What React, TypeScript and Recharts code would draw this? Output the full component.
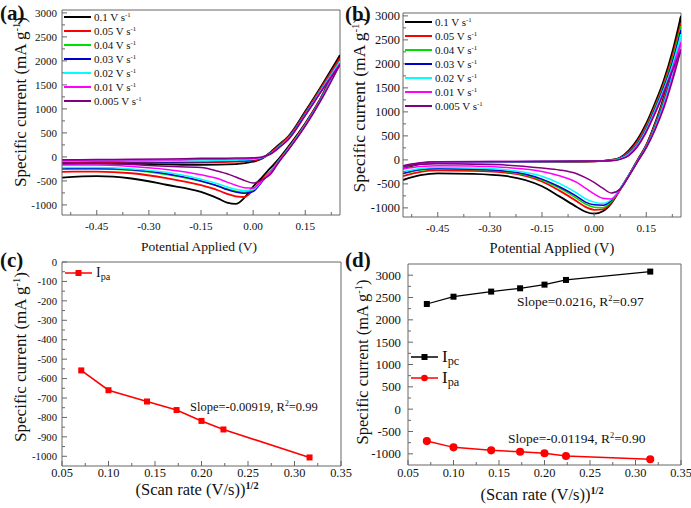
import React from 'react';
import { Legend, Line, LineChart, ReferenceLine, XAxis, YAxis } from 'recharts';

const SERIF = '"Liberation Serif", "Times New Roman", Times, serif';
const AXIS = '#666666';
const INK = '#111111';

// scan rates of the CV curves (V s^-1) and their colours
const scanRates = ['0.1', '0.05', '0.04', '0.03', '0.02', '0.01', '0.005'];
const cvColors = ['#000000', '#ff0000', '#00dd00', '#0000cc', '#00ffff', '#ff00ff', '#800080'];

// (a) potentials of the anodic (upper) and cathodic (lower) branches
const aUpperX = [-0.55, -0.45, -0.35, -0.25, -0.15, -0.05, 0, 0.025, 0.05, 0.075, 0.1, 0.15, 0.2, 0.25];
const aLowerX = [-0.55, -0.45, -0.35, -0.25, -0.15, -0.1, -0.075, -0.05, -0.025, 0, 0.025, 0.05, 0.075, 0.1, 0.15, 0.2, 0.25];

// (a) specific current, one row per scan rate
const aUpper = [
    [-150, -135, -140, -155, -165, -150, -100, -40, 100, 260, 420, 950, 1520, 2120],
    [-115, -110, -115, -125, -120, -100, -70, -30, 85, 240, 400, 920, 1490, 2060],
    [-95, -90, -95, -100, -95, -80, -55, -20, 75, 220, 380, 900, 1460, 2010],
    [-100, -95, -100, -105, -100, -85, -60, -25, 72, 215, 375, 895, 1450, 2000],
    [-85, -80, -85, -90, -85, -70, -50, -15, 68, 210, 365, 880, 1440, 1990],
    [-70, -65, -65, -65, -50, -45, -35, -10, 60, 200, 355, 870, 1420, 1950],
    [-60, -55, -50, -45, -30, -25, -20, 0, 60, 195, 350, 860, 1400, 1920],
];
const aLower = [
    [-430, -400, -450, -580, -730, -870, -950, -980, -850, -620, -430, -230, -30, 200, 700, 1300, 2120],
    [-310, -305, -340, -440, -590, -700, -770, -820, -835, -690, -480, -300, -60, 170, 680, 1290, 2060],
    [-255, -250, -280, -365, -510, -610, -670, -715, -735, -700, -500, -315, -70, 160, 670, 1280, 2010],
    [-240, -240, -270, -350, -500, -610, -680, -730, -755, -720, -520, -320, -80, 150, 660, 1270, 2000],
    [-220, -220, -250, -320, -465, -565, -625, -675, -700, -680, -500, -310, -80, 150, 660, 1260, 1990],
    [-170, -170, -200, -260, -370, -455, -525, -590, -640, -650, -500, -320, -90, 140, 650, 1250, 1950],
    [-130, -135, -160, -195, -220, -300, -350, -420, -490, -545, -480, -360, -100, 130, 640, 1240, 1920],
];

// (b) potentials of both branches
const bUpperX = [-0.55, -0.5, -0.45, -0.3, -0.15, 0, 0.05, 0.075, 0.1, 0.125, 0.15, 0.175, 0.2, 0.225, 0.25];
const bLowerX = [-0.55, -0.5, -0.45, -0.35, -0.25, -0.15, -0.1, -0.05, -0.025, 0, 0.025, 0.05, 0.075, 0.1, 0.125, 0.15, 0.175, 0.2, 0.225, 0.25];

// (b) specific current, one row per scan rate
const bUpper = [
    [-180, -90, -60, -50, -45, -30, 0, 50, 200, 430, 760, 1180, 1650, 2250, 3000],
    [-160, -80, -55, -45, -40, -30, -5, 40, 170, 390, 710, 1120, 1580, 2150, 2850],
    [-150, -75, -50, -42, -38, -28, -8, 35, 150, 360, 680, 1090, 1540, 2080, 2780],
    [-145, -72, -48, -40, -36, -28, -10, 30, 140, 340, 650, 1060, 1500, 2020, 2700],
    [-140, -70, -45, -38, -35, -27, -12, 25, 125, 320, 630, 1030, 1460, 1960, 2620],
    [-130, -65, -42, -36, -33, -26, -15, 15, 105, 300, 600, 990, 1420, 1900, 2450],
    [-120, -60, -40, -34, -31, -25, -18, 10, 90, 280, 580, 960, 1390, 1850, 2300],
];
const bLower = [
    [-420, -320, -280, -290, -340, -550, -760, -980, -1080, -1120, -1070, -900, -620, -320, 0, 310, 760, 1300, 2000, 3000],
    [-340, -250, -220, -230, -270, -450, -640, -860, -980, -1040, -1030, -880, -610, -320, -10, 300, 730, 1250, 1920, 2850],
    [-290, -210, -190, -200, -245, -420, -590, -800, -920, -985, -995, -860, -605, -320, -15, 290, 710, 1220, 1870, 2780],
    [-280, -200, -180, -195, -235, -400, -560, -760, -880, -935, -945, -840, -600, -320, -20, 280, 690, 1190, 1820, 2700],
    [-250, -180, -160, -170, -210, -340, -490, -690, -810, -880, -905, -820, -600, -320, -25, 270, 670, 1160, 1770, 2620],
    [-190, -140, -120, -130, -160, -240, -330, -470, -590, -710, -800, -815, -620, -330, -30, 260, 640, 1110, 1700, 2450],
    [-140, -90, -80, -90, -110, -170, -210, -290, -370, -470, -590, -690, -610, -340, -40, 250, 620, 1070, 1640, 2300],
];

// (c) and (d): square root of the scan rate and peak currents
const rootScanRate = [0.0707, 0.1, 0.1414, 0.1732, 0.2, 0.2236, 0.3162];
const cIpa = [-558, -660, -718, -762, -818, -862, -1006];
const dIpc = [2355, 2518, 2632, 2706, 2788, 2893, 3080];
const dIpa = [-715, -855, -922, -953, -988, -1050, -1122];

// ticks
const cvXMajor = [-0.45, -0.3, -0.15, 0, 0.15];
const cvXMinor = [-0.525, -0.375, -0.225, -0.075, 0.075, 0.225];
const cvYMajor = [-1000, -500, 0, 500, 1000, 1500, 2000, 2500, 3000];
const cvYMinor = [-750, -250, 250, 750, 1250, 1750, 2250, 2750];
const rateXMajor = [0.05, 0.1, 0.15, 0.2, 0.25, 0.3, 0.35];
const rateXMinor = [0.075, 0.125, 0.175, 0.225, 0.275, 0.325];
const cYMajor = [-1000, -900, -800, -700, -600, -500, -400, -300, -200, -100, 0];
const cYMinor = [-950, -850, -750, -650, -550, -450, -350, -250, -150, -50];

const merge = (a: number[], b: number[]) => [...a, ...b].sort((p, q) => p - q);
const toPoints = (xs: number[], ys: number[]) => xs.map((x, i) => ({ x, y: ys[i] }));
const isMajor = (v: number, majors: number[]) => majors.some((m) => Math.abs(m - v) < 1e-9);

interface TickProps {
    x?: number;
    y?: number;
    payload?: { value: number };
    majors: number[];
    fmt: (v: number) => string;
    size: number;
    gap: number;
}

function BottomTick({ x = 0, y = 0, payload, majors, fmt, size, gap }: TickProps) {
    const v = payload ? payload.value : 0;
    const major = isMajor(v, majors);
    return (
        <g>
            <line x1={x} x2={x} y1={y} y2={y - (major ? 5 : 3)} stroke={AXIS}/>
            {major && (
                <text x={x} y={y + gap} dy="0.71em" textAnchor="middle" fontFamily={SERIF} fontSize={size} fill={INK}>
                    {fmt(v)}
                </text>
            )}
        </g>
    );
}

function LeftTick({ x = 0, y = 0, payload, majors, fmt, size, gap }: TickProps) {
    const v = payload ? payload.value : 0;
    const major = isMajor(v, majors);
    return (
        <g>
            <line x1={x} x2={x + (major ? 5 : 3)} y1={y} y2={y} stroke={AXIS}/>
            {major && (
                <text x={x - gap} y={y} dy="0.35em" textAnchor="end" fontFamily={SERIF} fontSize={size} fill={INK}>
                    {fmt(v)}
                </text>
            )}
        </g>
    );
}

function SquareDot({ cx, cy, size, fill }: { cx?: number; cy?: number; size: number; fill: string }) {
    if (cx == null || cy == null) return null;
    return <rect x={cx - size / 2} y={cy - size / 2} width={size} height={size} fill={fill}/>;
}

const Sup = ({ children, bold }: { children: React.ReactNode; bold?: boolean }) => (
    <span style={{ fontSize: '0.62em', position: 'relative', top: '-0.6em', fontWeight: bold ? 'bold' : 'normal' }}>{children}</span>
);
const Sub = ({ children }: { children: React.ReactNode }) => (
    <span style={{ fontSize: '0.72em', position: 'relative', top: '0.3em' }}>{children}</span>
);

function Title({ x, y, size, rotate, children }: { x: number; y: number; size: number; rotate?: boolean; children: React.ReactNode }) {
    return (
        <div
            style={{
                position: 'absolute',
                left: x,
                top: y,
                transform: `translate(-50%, -50%)${rotate ? ' rotate(-90deg)' : ''}`,
                whiteSpace: 'nowrap',
                fontFamily: SERIF,
                fontSize: size,
                color: INK,
                lineHeight: 1,
            }}
        >
            {children}
        </div>
    );
}

function Note({ x, y, size, children }: { x: number; y: number; size: number; children: React.ReactNode }) {
    return (
        <div style={{ position: 'absolute', left: x, top: y, transform: 'translateY(-50%)', whiteSpace: 'nowrap', fontFamily: SERIF, fontSize: size, color: INK, lineHeight: 1 }}>
            {children}
        </div>
    );
}

function PanelTag({ x, y, tag }: { x: number; y: number; tag: string }) {
    return (
        <div style={{ position: 'absolute', left: x, top: y, fontFamily: SERIF, fontWeight: 'bold', fontSize: 21, lineHeight: 1.15, color: INK }}>
            ({tag})
        </div>
    );
}

function CvLegend() {
    return (
        <div style={{ fontFamily: SERIF, fontSize: 11, color: INK }}>
            {scanRates.map((r, i) => (
                <div key={r} style={{ display: 'flex', alignItems: 'center', height: 14 }}>
                    <svg width={27} height={4}>
                        <line x1={0} x2={27} y1={2} y2={2} stroke={cvColors[i]} strokeWidth={2}/>
                    </svg>
                    <span style={{ marginLeft: 3, whiteSpace: 'nowrap' }}>
                        {r} V s<Sup>-1</Sup>
                    </span>
                </div>
            ))}
        </div>
    );
}

interface RateItem {
    sub: string;
    color: string;
    shape: 'square' | 'circle';
}

function RateLegend({ items, size, row }: { items: RateItem[]; size: number; row: number }) {
    return (
        <div style={{ fontFamily: SERIF, fontSize: size, color: INK }}>
            {items.map((it) => (
                <div key={it.sub} style={{ display: 'flex', alignItems: 'center', height: row }}>
                    <svg width={27} height={8}>
                        <line x1={0} x2={27} y1={4} y2={4} stroke={it.color} strokeWidth={1.5}/>
                        {it.shape === 'square'
                            ? <rect x={10.5} y={1} width={6} height={6} fill={it.color}/>
                            : <circle cx={13.5} cy={4} r={3.3} fill={it.color}/>}
                    </svg>
                    <span style={{ marginLeft: 4, whiteSpace: 'nowrap' }}>
                        I<Sub>{it.sub}</Sub>
                    </span>
                </div>
            ))}
        </div>
    );
}

interface CvChartProps {
    upperX: number[];
    lowerX: number[];
    upper: number[][];
    lower: number[][];
    width: number;
    height: number;
    margin: { top: number; right: number; bottom: number; left: number };
    yWidth: number;
    yDomain: [number, number];
    yFont: number;
    yGap: number;
    legendTop: number;
    legendLeft: number;
}

function CvChart({ upperX, lowerX, upper, lower, width, height, margin, yWidth, yDomain, yFont, yGap, legendTop, legendLeft }: CvChartProps) {
    return (
        <LineChart width={width} height={height} margin={margin}>
            <XAxis
                type="number"
                dataKey="x"
                domain={[-0.55, 0.25]}
                allowDataOverflow
                ticks={merge(cvXMajor, cvXMinor)}
                interval={0}
                height={20}
                stroke={AXIS}
                tickLine={false}
                tickSize={0}
                tickMargin={0}
                tick={<BottomTick majors={cvXMajor} fmt={(v) => v.toFixed(2)} size={11.2} gap={7}/>}
            />
            <YAxis
                type="number"
                domain={yDomain}
                allowDataOverflow
                ticks={merge(cvYMajor, cvYMinor)}
                interval={0}
                width={yWidth}
                stroke={AXIS}
                tickLine={false}
                tickSize={0}
                tickMargin={0}
                tick={<LeftTick majors={cvYMajor} fmt={(v) => String(v)} size={yFont} gap={yGap}/>}
            />
            <ReferenceLine y={yDomain[1]} stroke={AXIS}/>
            <ReferenceLine x={0.25} stroke={AXIS}/>
            {scanRates.map((r, i) => (
                <React.Fragment key={r}>
                    <Line
                        data={toPoints(lowerX, lower[i])}
                        dataKey="y"
                        type="monotone"
                        stroke={cvColors[i]}
                        strokeWidth={i < 2 ? 1.8 : 1.5}
                        dot={false}
                        isAnimationActive={false}
                    />
                    <Line
                        data={toPoints(upperX, upper[i])}
                        dataKey="y"
                        type="monotone"
                        stroke={cvColors[i]}
                        strokeWidth={i < 2 ? 1.8 : 1.5}
                        dot={false}
                        isAnimationActive={false}
                    />
                </React.Fragment>
            ))}
            <Legend
                layout="vertical"
                align="center"
                verticalAlign="middle"
                wrapperStyle={{ top: legendTop, left: legendLeft, width: 'auto' }}
                content={() => <CvLegend/>}
            />
        </LineChart>
    );
}

const cData = rootScanRate.map((x, i) => ({ x, ipa: cIpa[i] }));
const dData = rootScanRate.map((x, i) => ({ x, ipc: dIpc[i], ipa: dIpa[i] }));

export default function App() {
    return (
        <div style={{ position: 'absolute', left: 0, top: 0, width: 691, height: 508, background: '#fff', overflow: 'hidden' }}>
            {/* (a) */}
            <div style={{ position: 'absolute', left: 0, top: 0 }}>
                <CvChart
                    upperX={aUpperX}
                    lowerX={aLowerX}
                    upper={aUpper}
                    lower={aLower}
                    width={345}
                    height={255}
                    margin={{ top: 10, right: 5, bottom: 20, left: 0 }}
                    yWidth={62}
                    yDomain={[-1210, 3060]}
                    yFont={11}
                    yGap={5}
                    legendTop={10}
                    legendLeft={64}
                />
            </div>

            {/* (b) */}
            <div style={{ position: 'absolute', left: 345, top: 0 }}>
                <CvChart
                    upperX={bUpperX}
                    lowerX={bLowerX}
                    upper={bUpper}
                    lower={bLower}
                    width={346}
                    height={255}
                    margin={{ top: 13, right: 10, bottom: 18, left: 0 }}
                    yWidth={58}
                    yDomain={[-1190, 3060]}
                    yFont={12.5}
                    yGap={3}
                    legendTop={15}
                    legendLeft={60}
                />
            </div>

            {/* (c) */}
            <div style={{ position: 'absolute', left: 0, top: 255 }}>
                <LineChart width={360} height={253} margin={{ top: 7, right: 19, bottom: 22, left: 0 }} data={cData}>
                    <XAxis
                        type="number"
                        dataKey="x"
                        domain={[0.05, 0.35]}
                        allowDataOverflow
                        ticks={merge(rateXMajor, rateXMinor)}
                        interval={0}
                        height={20}
                        stroke={AXIS}
                        tickLine={false}
                        tickSize={0}
                        tickMargin={0}
                        tick={<BottomTick majors={rateXMajor} fmt={(v) => v.toFixed(2)} size={12.4} gap={2}/>}
                    />
                    <YAxis
                        type="number"
                        domain={[-1050, 0]}
                        allowDataOverflow
                        ticks={merge(cYMajor, cYMinor)}
                        interval={0}
                        width={62}
                        stroke={AXIS}
                        tickLine={false}
                        tickSize={0}
                        tickMargin={0}
                        tick={<LeftTick majors={cYMajor} fmt={(v) => String(v)} size={10.7} gap={5}/>}
                    />
                    <ReferenceLine y={0} stroke={AXIS}/>
                    <ReferenceLine x={0.35} stroke={AXIS}/>
                    <Line
                        dataKey="ipa"
                        stroke="#ff0000"
                        strokeWidth={1.6}
                        dot={<SquareDot size={6} fill="#ff0000"/>}
                        isAnimationActive={false}
                    />
                    <Legend
                        layout="vertical"
                        align="center"
                        verticalAlign="middle"
                        wrapperStyle={{ top: 9, left: 65, width: 'auto' }}
                        content={() => <RateLegend items={[{ sub: 'pa', color: '#ff0000', shape: 'square' }]} size={14} row={18}/>}
                    />
                </LineChart>
            </div>

            {/* (d) */}
            <div style={{ position: 'absolute', left: 345, top: 255 }}>
                <LineChart width={346} height={253} margin={{ top: 9, right: 10, bottom: 23, left: 0 }} data={dData}>
                    <XAxis
                        type="number"
                        dataKey="x"
                        domain={[0.05, 0.35]}
                        allowDataOverflow
                        ticks={merge(rateXMajor, rateXMinor)}
                        interval={0}
                        height={20}
                        stroke={AXIS}
                        tickLine={false}
                        tickSize={0}
                        tickMargin={0}
                        tick={<BottomTick majors={rateXMajor} fmt={(v) => v.toFixed(2)} size={12.4} gap={3}/>}
                    />
                    <YAxis
                        type="number"
                        domain={[-1250, 3250]}
                        allowDataOverflow
                        ticks={merge(cvYMajor, cvYMinor)}
                        interval={0}
                        width={63}
                        stroke={AXIS}
                        tickLine={false}
                        tickSize={0}
                        tickMargin={0}
                        tick={<LeftTick majors={cvYMajor} fmt={(v) => String(v)} size={12.8} gap={7}/>}
                    />
                    <ReferenceLine y={3250} stroke={AXIS}/>
                    <ReferenceLine x={0.35} stroke={AXIS}/>
                    <Line
                        dataKey="ipc"
                        stroke="#000000"
                        strokeWidth={1.2}
                        dot={<SquareDot size={6} fill="#000000"/>}
                        isAnimationActive={false}
                    />
                    <Line
                        dataKey="ipa"
                        stroke="#ff0000"
                        strokeWidth={1.5}
                        dot={{ r: 3.3, fill: '#ff0000', stroke: '#ff0000' }}
                        isAnimationActive={false}
                    />
                    <Legend
                        layout="vertical"
                        align="center"
                        verticalAlign="middle"
                        wrapperStyle={{ top: 91, left: 66, width: 'auto' }}
                        content={() => (
                            <RateLegend
                                items={[
                                    { sub: 'pc', color: '#000000', shape: 'square' },
                                    { sub: 'pa', color: '#ff0000', shape: 'circle' },
                                ]}
                                size={17}
                                row={21}
                            />
                        )}
                    />
                </LineChart>
            </div>

            {/* axis titles */}
            <Title x={199} y={247} size={13.5}>Potential Applied (V)</Title>
            <Title x={552} y={248} size={14.5}>Potential Applied (V)</Title>
            <Title x={197} y={490} size={16.5}>(Scan rate (V/s))<Sup bold>1/2</Sup></Title>
            <Title x={542} y={495} size={16.5}>(Scan rate (V/s))<Sup bold>1/2</Sup></Title>
            <Title x={20} y={102} size={17} rotate>Specific current (mA g<Sup>-1</Sup>)</Title>
            <Title x={360} y={105} size={17.5} rotate>Specific current (mA g<Sup>-1</Sup>)</Title>
            <Title x={20} y={357} size={17} rotate>Specific current (mA g<Sup>-1</Sup>)</Title>
            <Title x={363} y={362} size={16.5} rotate>Specific current (mA g<Sup>-1</Sup>)</Title>

            {/* fit annotations */}
            <Note x={190} y={407} size={12.5}>Slope=-0.00919, R<Sup>2</Sup>=0.99</Note>
            <Note x={517} y={302} size={13.5}>Slope=0.0216, R<Sup>2</Sup>=0.97</Note>
            <Note x={508} y={439} size={13.5}>Slope=-0.01194, R<Sup>2</Sup>=0.90</Note>

            <PanelTag x={0} y={1} tag="a"/>
            <PanelTag x={345} y={2} tag="b"/>
            <PanelTag x={0} y={248} tag="c"/>
            <PanelTag x={345} y={248} tag="d"/>
        </div>
    );
}
